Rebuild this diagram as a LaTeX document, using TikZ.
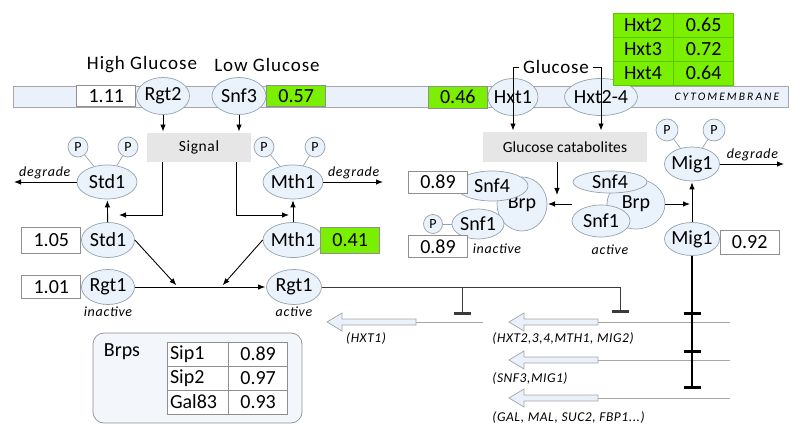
\documentclass[tikz,border=0pt]{standalone}
\usepackage{fontspec}
\setmainfont{Carlito}
\usepackage{tikz}
\usetikzlibrary{positioning,arrows.meta,shapes.geometric}

\definecolor{membfill}{HTML}{EAF1FA}
\definecolor{protfill}{HTML}{EAF2FB}
\definecolor{protline}{HTML}{98A2AD}
\definecolor{boxline}{HTML}{8F8F8F}
\definecolor{upgreen}{HTML}{7BEF00}
\definecolor{greenline}{HTML}{5DC400}
\definecolor{hubgray}{HTML}{E6E6E6}
\definecolor{genegray}{HTML}{A6A6A6}
\definecolor{inhibgray}{HTML}{3A3A3A}
\definecolor{panelfill}{HTML}{F3F7FC}

\tikzset{
  >={Latex[length=7pt,width=5.5pt]},
  membrane/.style={draw=genegray, fill=membfill, line width=0.7pt, minimum width=775pt, minimum height=21pt, inner sep=0pt},
  prot/.style={ellipse, draw=protline, fill=protfill, line width=0.7pt, inner xsep=-5pt, inner ysep=-2pt, minimum width=53pt, minimum height=35pt, font=\fontsize{20}{22}\selectfont},
  valbox/.style={draw=boxline, fill=white, line width=0.7pt, inner sep=0pt, minimum width=59pt, minimum height=23pt, font=\fontsize{20}{22}\selectfont},
  upbox/.style={valbox, fill=upgreen},
  phos/.style={circle, draw=protline, fill=protfill, line width=0.7pt, inner sep=0pt, minimum size=20pt, font=\fontsize{14}{16}\selectfont},
  plink/.style={draw=protline, line width=0.7pt},
  hub/.style={fill=hubgray, inner sep=0pt, font=\fontsize{15.5}{18}\selectfont\addfontfeature{LetterSpace=4}},
  heading/.style={font=\fontsize{19}{22}\selectfont\addfontfeature{LetterSpace=5}},
  tag/.style={font=\fontsize{14}{16}\selectfont\itshape\addfontfeature{LetterSpace=5}, inner sep=2pt},
  genetag/.style={font=\fontsize{13.5}{16}\selectfont\itshape\addfontfeature{LetterSpace=4}, inner sep=0pt},
  act/.style={->, draw=black, line width=0.9pt, shorten >=1pt},
  inhib/.style={-{Bar[width=17pt,line width=3pt]}, draw=inhibgray, line width=1pt},
  migstop/.style={-{Bar[width=17pt,line width=3pt]}, draw=black, line width=1.5pt},
  geneline/.style={draw=genegray, line width=0.8pt},
  hxtcell/.style={draw=greenline, fill=upgreen, line width=0.7pt, minimum width=60pt, minimum height=24pt, inner sep=0pt, font=\fontsize{20}{22}\selectfont},
  sipcell/.style={draw=boxline, fill=white, line width=0.6pt, minimum height=24pt, inner sep=0pt, font=\fontsize{20}{22}\selectfont},
  genearrow/.pic={
    \draw[draw=genegray, fill=membfill, line width=0.7pt] (0,0) -- (15,-9) -- (15,-3) -- (89,-3) -- (89,3) -- (15,3) -- (15,9) -- cycle;
    \coordinate (-tail) at (89,0);
  }
}

\begin{document}
\begin{tikzpicture}[x=1pt, y=-1pt, line width=0.9pt]
\useasboundingbox (0,0) rectangle (800,438);

% membrane and sensors
\node[membrane] (memb) at (400.5,97) {};
\node[font=\fontsize{11.5}{13}\selectfont\itshape\addfontfeature{LetterSpace=18}] (cytolbl) at (727,97) {CYTOMEMBRANE};
\node[prot, minimum height=37pt] (rgt2) at (163,96) {Rgt2};
\node[valbox, left=0pt of rgt2, minimum height=21pt] (rgt2val) {1.11};
\node[prot, minimum width=54pt, minimum height=37pt] (snf3) at (239,96) {Snf3};
\node[upbox, right=0pt of snf3, minimum height=21pt] (snf3val) {0.57};
\node[heading] (highglc) at (142,65) {High Glucose};
\node[heading] (lowglc) at (267,65) {Low Glucose};

% transporters
\node[prot, minimum width=50pt, minimum height=37pt] (hxt1) at (513,97) {Hxt1};
\node[upbox, left=0pt of hxt1, minimum height=22pt] (hxt1val) {0.46};
\node[prot, minimum width=73pt, minimum height=37pt] (hxt24) at (601,97) {Hxt2-4};
\node[heading, font=\fontsize{19}{22}\selectfont\addfontfeature{LetterSpace=4}] (glu) at (556,67) {Glucose};
\foreach \g/\v [count=\i] in {Hxt2/0.65, Hxt3/0.72, Hxt4/0.64} {
  \node[hxtcell] (hxtname\i) at (643,1+24*\i) {\g};
  \node[hxtcell, right=0pt of hxtname\i] (hxtval\i) {\v};
}

% signal branch
\node[hub, minimum width=104pt, minimum height=29pt] (signal) at (199,147.5) {Signal};
\node[prot, minimum width=60pt, minimum height=34pt] (std1u) at (107,182) {Std1};
\node[phos] (std1p1) at (78,147) {P};
\node[phos] (std1p2) at (128,147) {P};
\node[prot, minimum width=60pt, minimum height=34pt] (mth1u) at (293,182) {Mth1};
\node[phos] (mth1p1) at (264,147) {P};
\node[phos] (mth1p2) at (315,147) {P};
\node[prot] (std1l) at (108,240) {Std1};
\node[valbox, left=0pt of std1l, minimum height=26pt] (std1val) {1.05};
\node[prot, minimum width=60pt] (mth1l) at (293,240) {Mth1};
\node[upbox, right=-3pt of mth1l, minimum height=26pt] (mth1val) {0.41};
\node[prot] (rgt1i) at (108,287) {Rgt1};
\node[valbox, left=0pt of rgt1i] (rgt1val) {1.01};
\node[tag, below=0pt of rgt1i] (rgt1itag) {inactive};
\node[prot, minimum width=55pt] (rgt1a) at (294,287) {Rgt1};
\node[tag, below=0pt of rgt1a] (rgt1atag) {active};

% catabolite branch
\node[hub, minimum width=164pt, minimum height=30pt, font=\fontsize{15.5}{18}\selectfont\addfontfeature{LetterSpace=1}] (glcat) at (565,147) {Glucose catabolites};
\node[prot, minimum width=50pt, minimum height=54pt] (brpI) at (522,204) {Brp};
\node[prot, minimum width=72pt, minimum height=30pt] (snf4I) at (492,186) {Snf4};
\node[prot, minimum width=52pt, minimum height=30pt] (snf1I) at (478,224) {Snf1};
\node[phos, minimum size=19pt] (snf1Ip) at (433,224) {P};
\node[valbox, minimum height=22pt] (snf4Ival) at (438,182) {0.89};
\node[valbox, minimum height=22pt] (snf1Ival) at (438,246.5) {0.89};
\node[tag] (snfItag) at (497,249) {inactive};
\node[prot, minimum width=58pt, minimum height=50pt] (brpA) at (636,204) {Brp};
\node[prot, minimum width=74pt, minimum height=22pt] (snf4A) at (610,182) {Snf4};
\node[prot, minimum width=58pt, minimum height=32pt] (snf1A) at (601,221) {Snf1};
\node[tag] (snfAtag) at (610,250) {active};
\node[prot, minimum width=55pt, minimum height=34pt] (mig1u) at (692,164) {Mig1};
\node[phos, minimum size=22pt] (mig1p1) at (667,130) {P};
\node[phos, minimum size=22pt] (mig1p2) at (714,130) {P};
\node[prot, minimum width=55pt, minimum height=33pt] (mig1l) at (692,239) {Mig1};
\node[valbox, right=0pt of mig1l, yshift=-3pt, minimum height=24pt] (mig1val) {0.92};

% phospho links
\foreach \p in {std1p1, std1p2} \draw[plink] (\p) -- (std1u);
\foreach \p in {mth1p1, mth1p2} \draw[plink] (\p) -- (mth1u);
\foreach \p in {mig1p1, mig1p2} \draw[plink] (\p) -- (mig1u);
\draw[plink] (snf1Ip) -- (snf1I);

% arrows
\draw[act] (rgt2) -- (rgt2 |- signal.north);
\draw[act] (snf3) -- (snf3 |- signal.north);
\coordinate (sigL) at (118,215);
\coordinate (sigR) at (290,215);
\draw[act] ([xshift=-37pt]signal.south) |- (sigL);
\draw[act] ([xshift=37pt]signal.south) |- (sigR);
\draw[act] (std1l) -- (std1u);
\draw[act] (mth1l) -- (mth1u);
\coordinate (std1deg) at (13,182);
\coordinate (mth1deg) at (384,182);
\coordinate (mig1deg) at (785,164);
\draw[act] (std1u) -- (std1deg) node[tag, midway, above=1pt] {degrade};
\draw[act] (mth1u) -- (mth1deg) node[tag, midway, above=1pt] {degrade};
\draw[act] (mig1u) -- (mig1deg) node[tag, midway, above=1pt] {degrade};
\draw[act] (rgt1i) -- (rgt1a);
\coordinate (rgtjoinL) at (177,286);
\coordinate (rgtjoinR) at (222,286);
\draw[act] (std1l.east) -- (rgtjoinL);
\draw[act] (mth1l.west) -- (rgtjoinR);

\draw[act] (glu.west) -| (glcat.north -| hxt1);
\draw[act] (glu.east) -| (glcat.north -| hxt24);
\coordinate (catdrop) at (557,196);
\draw[act] (glcat.south -| catdrop) -- (catdrop);
\coordinate (snfback) at (547,204);
\draw[act] (snf1A.west |- brpA) -- (snfback);
\draw[act, shorten >=2pt] (brpA.east) -- (brpA.east -| mig1l);
\draw[act] (mig1l) -- (mig1u);

% target genes
\pic (g1) at (327,322) {genearrow};
\pic (g2) at (509,322) {genearrow};
\pic (g3) at (509,360) {genearrow};
\pic (g4) at (509,398) {genearrow};
\coordinate (g1end) at (483,322);
\coordinate (g2end) at (730,322);
\coordinate (g3end) at (730,360);
\coordinate (g4end) at (730,398);
\foreach \g in {g1, g2, g3, g4} \draw[geneline] (\g-tail) -- (\g end);
\node[genetag] (g1tag) at (366,338) {(HXT1)};
\node[genetag, anchor=west] (g2tag) at (492,338) {(HXT2,3,4,MTH1, MIG2)};
\node[genetag, anchor=west] (g3tag) at (492,378) {(SNF3,MIG1)};
\node[genetag, anchor=west] (g4tag) at (492,417) {(GAL, MAL, SUC2, FBP1...)};

% repression
\coordinate (rgtfork) at (462,287);
\coordinate (rgtbar1) at (462,315);
\coordinate (rgtbar2) at (620,313);
\draw[inhib] (rgt1a.east) -| (rgtbar2);
\draw[inhib, line width=0.8pt] (rgtfork) -- (rgtbar1);
\coordinate (migbar1) at (692,313);
\coordinate (migbar2) at (692,351);
\coordinate (migbar3) at (692,389);
\draw[migstop] (mig1l) -- (migbar3);
\foreach \b in {1,2} \draw[line width=3pt] ([xshift=-8.5pt]migbar\b) -- ([xshift=8.5pt]migbar\b);

% Brps panel
\node[draw=boxline, fill=panelfill, rounded corners=11pt, line width=0.7pt, minimum width=209pt, minimum height=90pt] (brpsbox) at (197.5,378) {};
\node[font=\fontsize{20}{22}\selectfont] (brpslbl) at (122,352) {Brps};
\foreach \n/\v [count=\i] in {Sip1/0.89, Sip2/0.97, Gal83/0.93} {
  \node[sipcell, minimum width=61pt, text width=55pt, align=left] (sipname\i) at (197.5,330+24*\i) {\n};
  \node[sipcell, minimum width=59pt, right=0pt of sipname\i] (sipval\i) {\v};
}
\end{tikzpicture}
\end{document}
